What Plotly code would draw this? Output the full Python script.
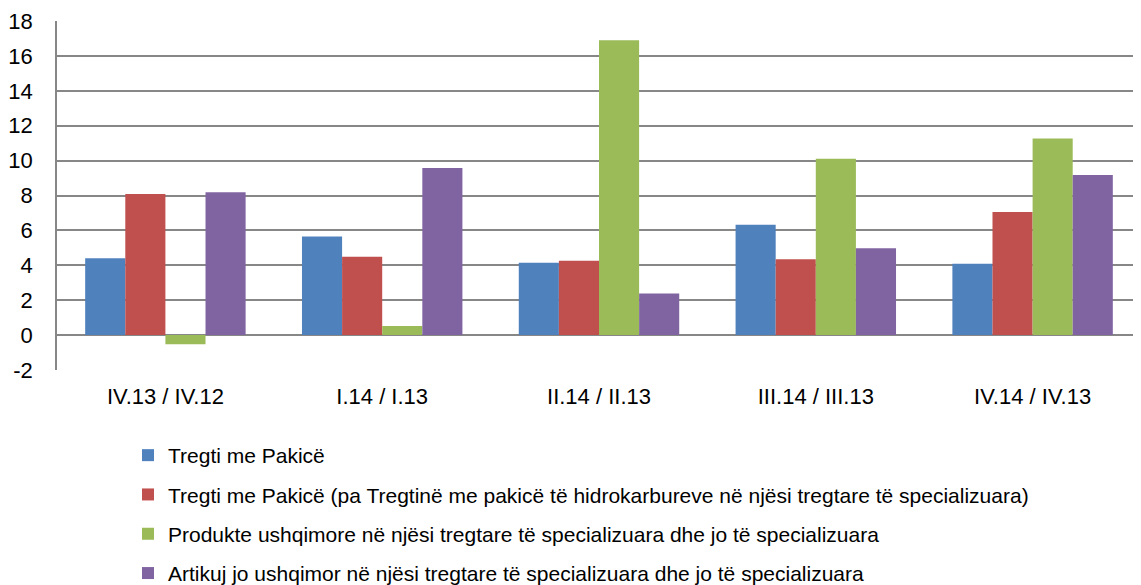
import plotly.graph_objects as go

categories = ["IV.13 / IV.12", "I.14 / I.13", "II.14 / II.13", "III.14 / III.13", "IV.14 / IV.13"]
series_names = [
    "Tregti me Pakicë",
    "Tregti me Pakicë (pa Tregtinë me pakicë të hidrokarbureve në njësi tregtare të specializuara)",
    "Produkte ushqimore në njësi tregtare të specializuara dhe jo të specializuara",
    "Artikuj jo ushqimor në njësi tregtare të specializuara dhe jo të specializuara",
]
tregti = [4.4, 5.65, 4.14, 6.32, 4.09]
tregti_pa_hidro = [8.08, 4.49, 4.26, 4.34, 7.05]
ushqimore = [-0.53, 0.52, 16.9, 10.1, 11.27]
jo_ushqimore = [8.19, 9.57, 2.39, 4.97, 9.17]
colors = ["#4F81BD", "#C0504D", "#9BBB59", "#8064A2"]
y_ticks = [-2, 0, 2, 4, 6, 8, 10, 12, 14, 16, 18]
y_tick_text = ["-2", "0", "2", "4", "6", "8", "10", "12", "14", "16", "18"]

fig = go.Figure()
for i, (name, vals) in enumerate(zip(series_names, [tregti, tregti_pa_hidro, ushqimore, jo_ushqimore])):
    fig.add_trace(go.Bar(
        x=categories, y=vals, name=name,
        marker=dict(color=colors[i], line=dict(width=0)),
        legendgroup=f"g{i}",
    ))

# page body has an 8px margin, so the figure is sized 1133x577
fig.update_layout(
    width=1133, height=577,
    margin=dict(l=49, r=0, t=13, b=215, autoexpand=False),
    paper_bgcolor="white", plot_bgcolor="white",
    barmode="group", bargap=0.26, bargroupgap=0,
    font=dict(family="Liberation Sans, Arial, sans-serif", color="black"),
    showlegend=True,
    legend=dict(
        x=(128 - 57) / 1084, y=(370 - 435) / 349, xanchor="left", yanchor="top",
        font=dict(size=21, color="black"),
        tracegroupgap=9, itemwidth=30,
        bgcolor="rgba(0,0,0,0)",
    ),
    xaxis=dict(
        type="category", range=[-0.5, 4.5],
        showgrid=False, showline=False, zeroline=False,
        tickfont=dict(size=22), ticklabelstandoff=11, tickangle=0,
        fixedrange=True,
    ),
    yaxis=dict(
        range=[-2, 18], tickvals=y_ticks, ticktext=y_tick_text,
        showgrid=True, gridcolor="#878787", gridwidth=1.5,
        zeroline=True, zerolinecolor="#878787", zerolinewidth=1.5,
        showline=True, linecolor="#878787", linewidth=1.5,
        tickfont=dict(size=22), ticklabelstandoff=18,
        fixedrange=True,
    ),
)

fig.write_html("out.html")
